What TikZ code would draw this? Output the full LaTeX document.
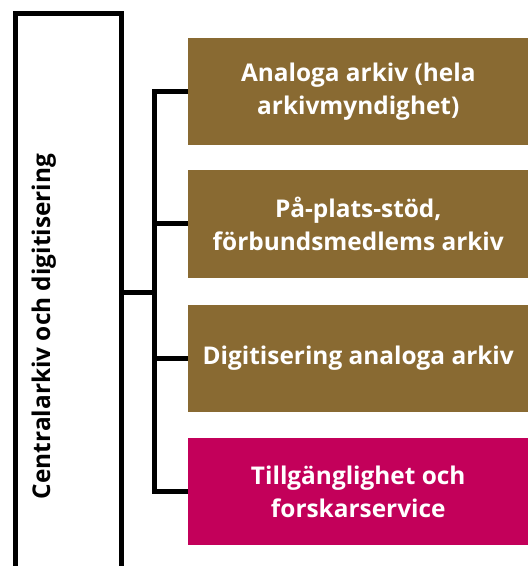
\documentclass[tikz,border=0pt]{standalone}
\usepackage{fontspec}
\setmainfont{Open Sans}
\usetikzlibrary{positioning}
\definecolor{arkivbrun}{HTML}{896A32}
\definecolor{arkivrosa}{HTML}{C3005A}
\tikzset{
  linje/.style={line width=3.75pt, black},
  enhet/.style={fill=arkivbrun, text=white, anchor=west, align=center,
    minimum width=255pt, minimum height=80.25pt, inner sep=0pt,
    font=\fontsize{18.3}{24.75}\selectfont\bfseries},
}
\begin{document}
\begin{tikzpicture}[x=0.75pt, y=-0.75pt]
  \useasboundingbox (0,0) rectangle (528,566);
  % main unit
  \node[draw, linje, anchor=north west, minimum width=79.5pt, minimum height=471.75pt,
    inner sep=0pt] (central) at (12.5,11.5) {};
  \node[rotate=90, anchor=base, inner sep=0pt,
    font=\fontsize{18.3}{24.75}\selectfont\bfseries] (centraltext) at (50,326.5)
    {Centralarkiv och digitisering};
  % sub units
  \node[enhet] (analog) at (188,91.5) {Analoga arkiv (hela\\arkivmyndighet)};
  \node[enhet] (stod) at (188,224) {På-plats-stöd,\\förbundsmedlems arkiv};
  \node[enhet] (digit) at (188,358) {Digitisering analoga arkiv};
  \node[enhet, fill=arkivrosa] (service) at (188,491.5) {Tillgänglighet och\\forskarservice};
  % lines
  \coordinate (fork) at (154,292);
  \draw[linje] (central.east |- fork) -- (fork);
  \draw[linje, line join=miter] (analog.west) -| (service.west -| fork) -- (service.west);
  \draw[linje] (stod.west -| fork) -- (stod.west);
  \draw[linje] (digit.west -| fork) -- (digit.west);
\end{tikzpicture}
\end{document}
